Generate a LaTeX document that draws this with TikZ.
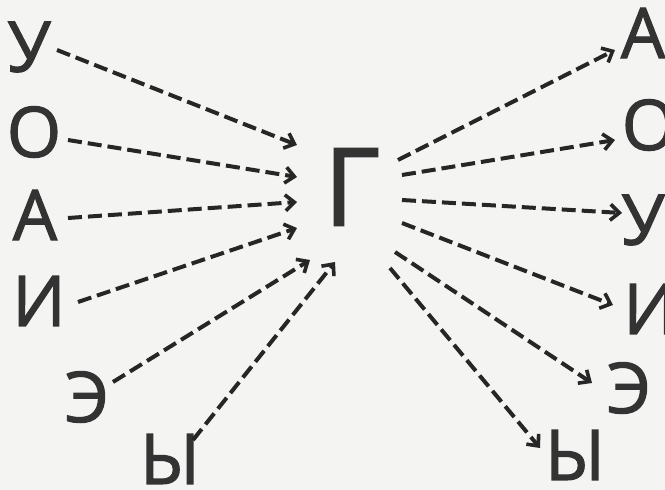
\documentclass[tikz,border=0pt]{standalone}
\usepackage{fontspec}
\setmainfont{Open Sans}
\newfontfamily\lfont{Open Sans}[FakeBold=1.6]
\usetikzlibrary{arrows.meta}
\definecolor{ink}{HTML}{333333}
\definecolor{lineink}{HTML}{262626}
\definecolor{paper}{HTML}{F4F4F2}
\begin{document}
\begin{tikzpicture}[x=1pt,y=-1pt,
  letter/.style={inner sep=0pt, text=ink, font=\lfont\fontsize{70}{70}\selectfont},
  arr/.style={draw=lineink, line width=4pt, dash pattern=on 14pt off 6pt,
    -{Straight Barb[length=9pt,width=16pt,line width=3.6pt]}}]
\fill[paper] (0,0) rectangle (665,490);
\useasboundingbox (0,0) rectangle (665,490);
% left letters
\node[letter] (lu) at (29,47) {У};
\node[letter] (lo) at (34,132) {О};
\node[letter] (la) at (35,215) {А};
\node[letter] (li) at (39,301) {И};
\node[letter] (le) at (87,397) {Э};
\node[letter] (ly) at (170,459) {Ы};
% centre
\node[letter, font=\lfont\fontsize{108}{108}\selectfont] (g) at (352,187) {Г};
% right letters
\node[letter] (ra) at (643,33) {А};
\node[letter] (ro) at (649,125) {О};
\node[letter] (ru) at (643,220) {У};
\node[letter] (ri) at (650,309) {И};
\node[letter] (re) at (629,388) {Э};
\node[letter] (ry) at (575,455) {Ы};
% connectors into the centre
\draw[arr] ([shift={(28,3)}]lu.center) -- ([shift={(-55,-42)}]g.center);
\draw[arr] ([shift={(34,8)}]lo.center) -- ([shift={(-55,-10)}]g.center);
\draw[arr] ([shift={(33,3)}]la.center) -- ([shift={(-55,15)}]g.center);
\draw[arr] ([shift={(39,1)}]li.center) -- ([shift={(-55,41)}]g.center);
\draw[arr] ([shift={(26,-15)}]le.center) -- ([shift={(-42,73)}]g.center);
\draw[arr] ([shift={(23,-19)}]ly.center) -- ([shift={(-17,75)}]g.center);
% connectors out of the centre
\draw[arr] ([shift={(46,-27)}]g.center) -- ([shift={(-28,17)}]ra.center);
\draw[arr] ([shift={(50,-12)}]g.center) -- ([shift={(-34,15)}]ro.center);
\draw[arr] ([shift={(50,13)}]g.center) -- ([shift={(-21,-7)}]ru.center);
\draw[arr] ([shift={(50,36)}]g.center) -- ([shift={(-37,-4)}]ri.center);
\draw[arr] ([shift={(43,65)}]g.center) -- ([shift={(-37,-5)}]re.center);
\draw[arr] ([shift={(38,81)}]g.center) -- ([shift={(-35,-7)}]ry.center);
\end{tikzpicture}
\end{document}
